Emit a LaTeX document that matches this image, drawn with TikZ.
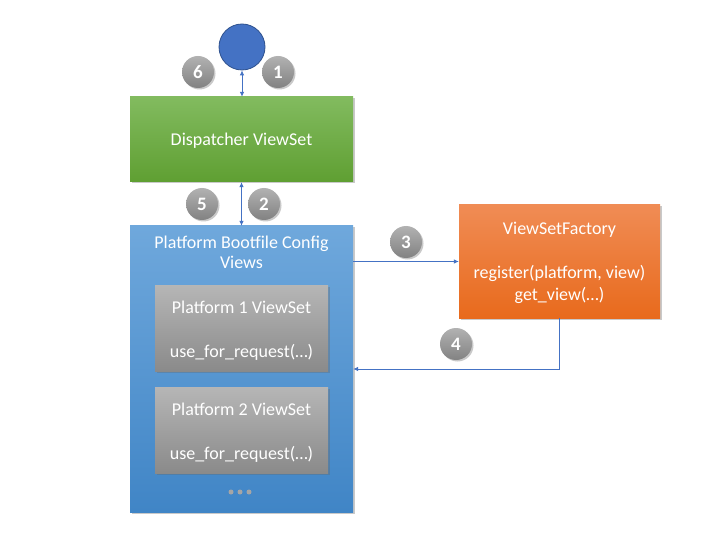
\documentclass[tikz,border=0pt]{standalone}
\usepackage{fontspec}
\setmainfont{Carlito}
\usetikzlibrary{arrows.meta,shadows}
\definecolor{arrowblue}{HTML}{4472C4}
\definecolor{clientfill}{HTML}{4472C4}
\definecolor{clientdraw}{HTML}{2F528F}
\definecolor{greentop}{RGB}{130,187,95}
\definecolor{greenbot}{RGB}{95,159,50}
\definecolor{bluetop}{RGB}{111,168,220}
\definecolor{bluebot}{RGB}{64,133,198}
\definecolor{orangetop}{RGB}{240,140,85}
\definecolor{orangebot}{RGB}{232,106,28}
\definecolor{graytop}{RGB}{182,182,182}
\definecolor{graybot}{RGB}{138,138,138}
\definecolor{badgetop}{RGB}{178,178,178}
\definecolor{badgebot}{RGB}{130,130,130}
\definecolor{dotgray}{RGB}{166,166,166}
\tikzset{
  shad/.style={drop shadow={shadow xshift=1.5pt,shadow yshift=-1.5pt,opacity=0.35,fill=black!60}},
  box/.style={shad,draw=none,inner sep=0pt,text=white,align=center,
    font=\fontsize{18}{22}\selectfont},
  boxtext/.style={text=white,align=center,inner sep=0pt,font=\fontsize{18}{22}\selectfont},
  greenbox/.style={box,top color=greentop,bottom color=greenbot},
  bluebox/.style={box,top color=bluetop,bottom color=bluebot},
  orangebox/.style={box,top color=orangetop,bottom color=orangebot},
  graybox/.style={box,top color=graytop,bottom color=graybot},
  badge/.style={shad,circle,minimum size=32pt,inner sep=0pt,text=white,
    top color=badgetop,bottom color=badgebot,
    font=\fontsize{19}{20}\selectfont\bfseries},
  arr/.style={draw=arrowblue,line width=0.8pt,-{Latex[length=5pt,width=4.5pt]}},
  darr/.style={draw=arrowblue,line width=0.8pt,{Latex[length=5pt,width=4.5pt]}-{Latex[length=5pt,width=4.5pt]}},
  dot/.style={circle,fill=dotgray,minimum size=5pt,inner sep=0pt},
}
\begin{document}
\begin{tikzpicture}[x=1pt,y=-1pt]
\useasboundingbox[fill=white] (0,0) rectangle (720,540);
% client
\node[circle,minimum size=46pt,inner sep=0pt,fill=clientfill,draw=clientdraw,line width=0.8pt] (client) at (242,47) {};
% dispatcher
\node[greenbox,minimum width=223pt,minimum height=85pt] (disp) at (241.5,139.5) {};
\node[boxtext] (disptext) at (241.5,141) {Dispatcher ViewSet};
% platform bootfile
\node[bluebox,minimum width=223pt,minimum height=286pt] (blue) at (241.5,369) {};
\node[boxtext,font=\fontsize{18}{20}\selectfont] (title) at (241.5,252) {Platform Bootfile Config\\Views};
\node[graybox,minimum width=173pt,minimum height=86pt] (p1) at (241.5,328) {};
\node[boxtext] (p1text) at (241.5,331) {Platform 1 ViewSet\\\mbox{}\\use\_for\_request(…)};
\node[graybox,minimum width=173pt,minimum height=86pt] (p2) at (241.5,430) {};
\node[boxtext] (p2text) at (241.5,432.5) {Platform 2 ViewSet\\\mbox{}\\use\_for\_request(…)};
\node[dot] (d1) at (231,492) {};
\node[dot] (d2) at (240,492) {};
\node[dot] (d3) at (249,492) {};
% factory
\node[orangebox,minimum width=201pt,minimum height=113pt] (fact) at (559.5,261.5) {};
\node[boxtext] (facttext) at (559.5,263) {ViewSetFactory\\\mbox{}\\register(platform, view)\\get\_view(…)};
% badges
\node[badge] (b6) at (198,72) {6};
\node[badge] (b1) at (278,72) {1};
\node[badge] (b5) at (202,204) {5};
\node[badge] (b2) at (264,204) {2};
\node[badge] (b3) at (406,242) {3};
\node[badge] (b4) at (456,344) {4};
% connectors
\draw[darr] (client.south) -- (client.south |- disp.north);
\draw[darr] (disp.south) -- (disp.south |- blue.north);
\draw[arr] (fact.west -| blue.east) -- (fact.west);
\draw[arr] (fact.south) |- (blue.east);
\end{tikzpicture}
\end{document}
